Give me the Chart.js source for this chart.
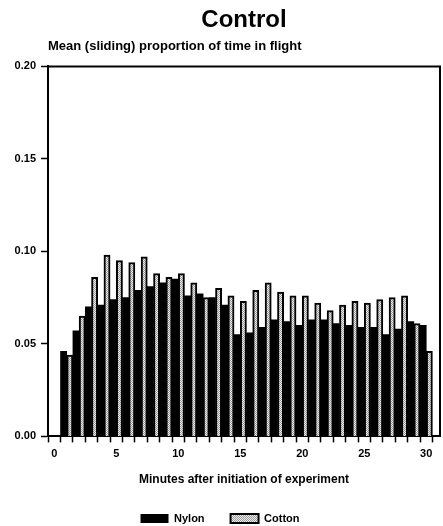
<!DOCTYPE html>
<html>
<head>
<meta charset="utf-8">
<script src="https://cdn.jsdelivr.net/npm/chart.js@4/dist/chart.umd.min.js"></script>
<style>
  html, body { margin: 0; padding: 0; background: #fff; }
  #wrap { width: 443px; height: 526px; }
</style>
</head>
<body>
<div id="wrap"><canvas id="chart"></canvas></div>
<script>
const minutes = [1, 2, 3, 4, 5, 6, 7, 8, 9, 10, 11, 12, 13, 14, 15,
  16, 17, 18, 19, 20, 21, 22, 23, 24, 25, 26, 27, 28, 29, 30];
const nylon = [0.046, 0.057, 0.070, 0.071, 0.074, 0.075, 0.079, 0.081, 0.083, 0.085,
  0.076, 0.077, 0.075, 0.071, 0.055, 0.056, 0.059, 0.063, 0.062, 0.060,
  0.063, 0.063, 0.061, 0.060, 0.059, 0.059, 0.055, 0.058, 0.062, 0.060];
const cotton = [0.044, 0.065, 0.086, 0.098, 0.095, 0.094, 0.097, 0.088, 0.086, 0.088,
  0.083, 0.075, 0.080, 0.076, 0.073, 0.079, 0.083, 0.078, 0.076, 0.076,
  0.072, 0.068, 0.071, 0.073, 0.072, 0.074, 0.075, 0.076, 0.061, 0.046];
const xTicks = [0, 1, 2, 3, 4, 5, 6, 7, 8, 9, 10, 11, 12, 13, 14, 15,
  16, 17, 18, 19, 20, 21, 22, 23, 24, 25, 26, 27, 28, 29, 30];
const xLabelTicks = [0, 5, 10, 15, 20, 25, 30];
const yTicks = [0, 0.05, 0.10, 0.15, 0.20];

const FONT = "'Liberation Sans', Arial, sans-serif";

// grey/white dotted fill like the old print shading
function dotPattern() {
  const c = document.createElement('canvas');
  c.width = 2;
  c.height = 2;
  const g = c.getContext('2d');
  g.fillStyle = '#ececec';
  g.fillRect(0, 0, 2, 2);
  g.fillStyle = '#9a9a9a';
  g.fillRect(0, 0, 1, 1);
  g.fillRect(1, 1, 1, 1);
  return g.createPattern(c, 'repeat');
}

// top and right edges of the plot box
const frame = {
  id: 'frame',
  afterDraw(chart) {
    const { ctx, chartArea: a } = chart;
    ctx.save();
    ctx.strokeStyle = '#000';
    ctx.lineWidth = 2;
    ctx.beginPath();
    ctx.moveTo(a.left, a.top);
    ctx.lineTo(a.right, a.top);
    ctx.lineTo(a.right, a.bottom);
    ctx.stroke();
    ctx.restore();
  }
};

const toPoints = (vals) => minutes.map((m, i) => ({ x: m, y: vals[i] }));

new Chart(document.getElementById('chart'), {
  type: 'bar',
  data: {
    datasets: [
      {
        label: 'Nylon',
        data: toPoints(nylon),
        backgroundColor: '#000',
        borderWidth: 0
      },
      {
        label: 'Cotton',
        data: toPoints(cotton),
        backgroundColor: dotPattern(),
        borderColor: '#000',
        borderWidth: 2
      }
    ]
  },
  options: {
    responsive: true,
    maintainAspectRatio: false,
    animation: false,
    layout: { padding: { left: 0, right: 3, top: 0, bottom: -8 } },
    datasets: { bar: { categoryPercentage: 1, barPercentage: 1 } },
    scales: {
      x: {
        type: 'linear',
        min: 0,
        max: 30.6,
        afterBuildTicks: (s) => { s.ticks = xTicks.map(v => ({ value: v })); },
        grid: { drawOnChartArea: false, color: '#000', tickLength: 6, tickWidth: 1.5 },
        border: { color: '#000', width: 2 },
        ticks: {
          autoSkip: false,
          maxRotation: 0,
          color: '#000',
          padding: 5,
          font: { family: FONT, size: 11, weight: 'bold' },
          callback: (v) => xLabelTicks.includes(v) ? String(v) : ''
        },
        title: {
          display: true,
          text: 'Minutes after initiation of experiment',
          color: '#000',
          font: { family: FONT, size: 12, weight: 'bold' },
          padding: { top: 7, bottom: 0 }
        }
      },
      y: {
        min: 0,
        max: 0.2,
        afterBuildTicks: (s) => { s.ticks = yTicks.map(v => ({ value: v })); },
        afterFit: (s) => { s.width = 48; },
        grid: { drawOnChartArea: false, color: '#000', tickLength: 7, tickWidth: 1.5 },
        border: { color: '#000', width: 2 },
        ticks: {
          color: '#000',
          padding: 5,
          font: { family: FONT, size: 11, weight: 'bold' },
          callback: (v) => v.toFixed(2)
        }
      }
    },
    plugins: {
      title: {
        display: true,
        fullSize: false,
        text: 'Control',
        color: '#000',
        font: { family: FONT, size: 24, weight: 'bold' },
        padding: { top: 6, bottom: 4 }
      },
      subtitle: {
        display: true,
        fullSize: false,
        text: 'Mean (sliding) proportion of time in flight',
        align: 'start',
        color: '#000',
        font: { family: FONT, size: 13, weight: 'bold' },
        padding: { top: 0, bottom: 12 }
      },
      legend: {
        position: 'bottom',
        labels: {
          color: '#000',
          boxWidth: 28,
          boxHeight: 9,
          padding: 26,
          font: { family: FONT, size: 11, weight: 'bold' }
        }
      },
      tooltip: { enabled: false }
    }
  },
  plugins: [frame]
});
</script>
</body>
</html>
